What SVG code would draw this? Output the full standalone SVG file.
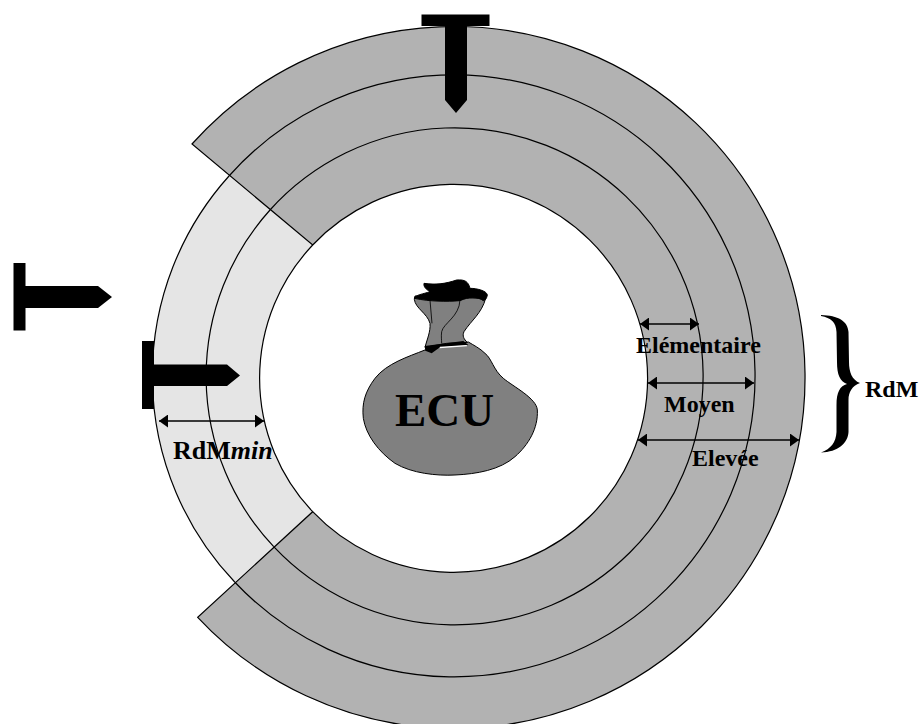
<svg xmlns="http://www.w3.org/2000/svg" width="919" height="724" viewBox="0 0 919 724">
<style>
.ring{stroke:#000;stroke-width:1.2;fill:none}
.dark{fill:#b2b2b2}
.light{fill:#e5e5e5}
.t{fill:#000}
.lbl{font-family:"Liberation Serif","Times New Roman",serif;font-weight:bold;font-size:24px;fill:#000}
.dim{stroke:#000;stroke-width:1.5;fill:none;marker-start:url(#aStart);marker-end:url(#aEnd)}
</style>
<defs>
<marker id="aEnd" markerUnits="userSpaceOnUse" markerWidth="10" markerHeight="14" refX="9" refY="6.5" orient="auto"><path d="M0 0L9 6.5L0 13Z" fill="#000"/></marker>
<marker id="aStart" markerUnits="userSpaceOnUse" markerWidth="10" markerHeight="14" refX="0" refY="6.5" orient="auto"><path d="M9 0L0 6.5L9 13Z" fill="#000"/></marker>
</defs>
<rect width="919" height="724" fill="#fff"/>
<g id="rings">
<path class="light" d="M229 176A300 300 0 0 0 234.7 582L312.7 511.7A194 194 0 0 1 312.7 245Z"/>
<path class="dark" d="M192 144A351 351 0 1 1 197.7 617.3L312.7 511.7A194 194 0 1 0 312.7 245Z"/>
<path class="ring" d="M192 144A351 351 0 1 1 197.7 617.3L312.7 511.7A194 194 0 1 0 312.7 245Z"/>
<path class="ring" d="M229 176A301 301 0 1 1 234.7 582"/>
<path class="ring" d="M270 210A248.5 248.5 0 1 1 273.7 546.7"/>
<path class="ring" d="M229 176A299 299 0 0 0 234.7 582"/>
<path class="ring" d="M270 210A248.5 248.5 0 0 0 273.7 546.7"/>
<path class="ring" d="M312.7 245A194 194 0 0 0 312.7 511.7"/>
</g>
<g id="bag">
<g transform="translate(340 260) scale(.33333)" stroke="#000" stroke-width="3">
<path fill="#808080" d="M255 270C205 290 140 310 105 355C75 395 65 430 70 475C78 525 115 575 165 610C215 640 290 648 345 645C410 642 480 630 525 590C565 555 595 505 592 450C590 415 520 380 490 355C460 330 455 295 435 280C420 265 400 255 385 246Z"/>
<path fill="#808080" d="M255 262C262 235 272 215 270 190C262 160 226 145 223 118L225 108L437 115C425 160 395 180 372 215C366 228 372 238 382 247L320 250Z"/>
<path fill="none" stroke-width="2.5" d="M270 120L276 190M360 120C358 170 310 190 305 215C303 230 305 240 305 250"/>
<path fill="#000" d="M252 70C285 75 315 72 350 60C375 58 385 65 390 85C410 85 440 92 442 105C440 115 437 120 430 122C415 110 385 110 360 122C320 125 270 125 223 115C225 105 250 102 270 95C258 88 250 80 252 70Z"/>
<path fill="#000" stroke="none" d="M254 258L370 243L385 255L300 262L275 280L256 272Z"/>
<path fill="#fff" stroke="none" d="M300 260L380 255L381 259L298 265Z"/>
</g>
<text x="395" y="426" font-family="'Liberation Serif','Times New Roman',serif" font-weight="bold" font-size="47" fill="#000">ECU</text>
</g>
<g id="pin-top"><path class="t" d="M421.5 14.5H489.5V26H467V100L456 113L445 100V26H421.5Z"/></g>
<g id="pin-left"><path class="t" d="M13.5 263H25.5V286H98L112 297L98 308H25.5V330.5H13.5Z"/></g>
<g id="pin-min"><path class="t" d="M142 341H154V364.5H227L240 375.5L227 386H154V409H142Z"/></g>
<g id="connectors">
<line class="dim" x1="159" y1="421" x2="264" y2="421"/>
<line class="dim" x1="640" y1="324" x2="699" y2="324"/>
<line class="dim" x1="648" y1="383" x2="754" y2="383"/>
<line class="dim" x1="638" y1="440" x2="799" y2="440"/>
</g>
<g id="brace"><path fill="#000" d="M821 315C838 315.500 848 321 848.500 332L849 362C849 372 852 380 860 383C852 386 848.500 392 848.500 400L848.500 432C848 443 838 452 821 452.500C831 449 836 442 836.500 432L836.500 405C836.500 392 840 386 847 384C840 381 837 375 837 362L836.500 332C836 322 831 318 821 316Z"/></g>
<g id="labels">
<text class="lbl" x="636" y="353">Elémentaire</text>
<text class="lbl" x="664" y="412">Moyen</text>
<text class="lbl" x="692" y="466">Elevée</text>
<text class="lbl" x="865" y="397">RdM</text>
<text class="lbl" x="173" y="459" style="font-size:26px">RdM<tspan font-style="italic">min</tspan></text>
</g>
</svg>
